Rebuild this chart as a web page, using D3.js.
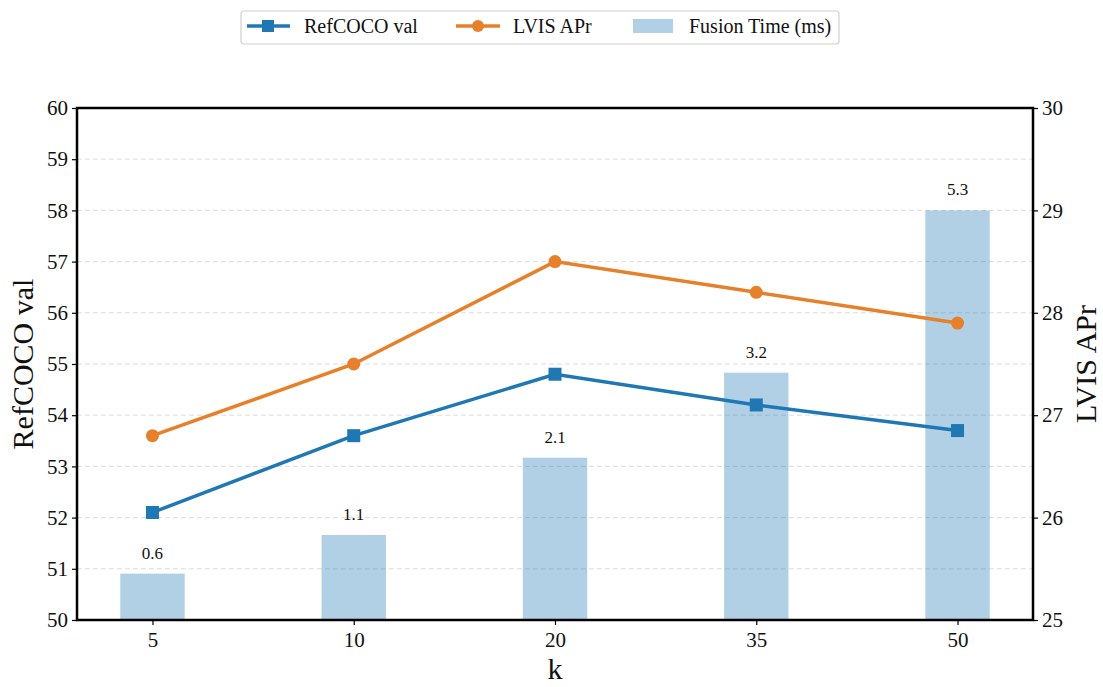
<!DOCTYPE html>
<html>
<head>
<meta charset="utf-8">
<script src="https://cdn.jsdelivr.net/npm/d3@7"></script>
<style>
  body { margin: 0; background: #fff; }
</style>
</head>
<body>
<script>
const width = 1103;
const height = 687;
const margin = { top: 108, right: 70, bottom: 67, left: 77 };
const serif = "Liberation Serif, Times New Roman, serif";

const kValues = ["5", "10", "20", "35", "50"];
const refcocoVal = [52.1, 53.6, 54.8, 54.2, 53.7];
const lvisApr = [26.8, 27.5, 28.5, 28.2, 27.9];
const fusionTime = [0.6, 1.1, 2.1, 3.2, 5.3];
const leftTicks = [50, 51, 52, 53, 54, 55, 56, 57, 58, 59, 60];
const rightTicks = [25, 26, 27, 28, 29, 30];

const blue = "#1f77b4";
const orange = "#e6802a";

const svg = d3.select("body").append("svg")
  .attr("width", width)
  .attr("height", height)
  .attr("font-family", serif);

const x = d3.scaleLinear()
  .domain([-0.375, kValues.length - 1 + 0.375])
  .range([margin.left, width - margin.right]);
const yL = d3.scaleLinear().domain([50, 60]).range([height - margin.bottom, margin.top]);
const yR = d3.scaleLinear().domain([25, 30]).range([height - margin.bottom, margin.top]);
const yT = d3.scaleLinear().domain([0, d3.max(fusionTime) / 0.8]).range([height - margin.bottom, margin.top]);

// grid
svg.append("g")
  .selectAll("line")
  .data(leftTicks.slice(1, -1))
  .enter()
  .append("line")
  .attr("x1", margin.left)
  .attr("x2", width - margin.right)
  .attr("y1", (d) => yL(d))
  .attr("y2", (d) => yL(d))
  .attr("stroke", "#dcdcdc")
  .attr("stroke-width", 1)
  .attr("stroke-dasharray", "5,3");

// bars
const barW = x(0.32) - x(0);
svg.append("g")
  .selectAll("rect")
  .data(fusionTime)
  .enter()
  .append("rect")
  .attr("x", (d, i) => x(i) - barW / 2)
  .attr("y", (d) => yT(d))
  .attr("width", barW)
  .attr("height", (d) => yT(0) - yT(d))
  .attr("fill", blue)
  .attr("fill-opacity", 0.35);

svg.append("g")
  .selectAll("text")
  .data(fusionTime)
  .enter()
  .append("text")
  .attr("x", (d, i) => x(i))
  .attr("y", (d) => yT(d) - 15)
  .attr("text-anchor", "middle")
  .attr("font-size", 17)
  .attr("fill", "#111")
  .text((d) => d.toFixed(1));

// lines
const line = (scale) => d3.line().x((d, i) => x(i)).y((d) => scale(d));

svg.append("path")
  .datum(refcocoVal)
  .attr("d", line(yL))
  .attr("fill", "none")
  .attr("stroke", blue)
  .attr("stroke-width", 3.5);
svg.append("g")
  .selectAll("rect")
  .data(refcocoVal)
  .enter()
  .append("rect")
  .attr("x", (d, i) => x(i) - 6.5)
  .attr("y", (d) => yL(d) - 6.5)
  .attr("width", 13)
  .attr("height", 13)
  .attr("fill", blue);

svg.append("path")
  .datum(lvisApr)
  .attr("d", line(yR))
  .attr("fill", "none")
  .attr("stroke", orange)
  .attr("stroke-width", 3.5);
svg.append("g")
  .selectAll("circle")
  .data(lvisApr)
  .enter()
  .append("circle")
  .attr("cx", (d, i) => x(i))
  .attr("cy", (d) => yR(d))
  .attr("r", 6.5)
  .attr("fill", orange);

// axes
function styleAxis(g) {
  g.attr("font-family", serif).attr("font-size", 21);
  g.selectAll(".domain").remove();
  g.selectAll(".tick line").attr("stroke", "#000").attr("stroke-width", 1.2);
  g.selectAll(".tick text").attr("fill", "#111");
}

svg.append("g")
  .attr("transform", `translate(${margin.left},0)`)
  .call(d3.axisLeft(yL).tickValues(leftTicks).tickFormat(d3.format("d")).tickSize(5).tickPadding(4))
  .call(styleAxis);

svg.append("g")
  .attr("transform", `translate(${width - margin.right},0)`)
  .call(d3.axisRight(yR).tickValues(rightTicks).tickFormat(d3.format("d")).tickSize(5).tickPadding(4))
  .call(styleAxis);

svg.append("g")
  .attr("transform", `translate(0,${height - margin.bottom})`)
  .call(d3.axisBottom(x).tickValues(d3.range(kValues.length)).tickFormat((i) => kValues[i]).tickSize(5).tickPadding(7))
  .call(styleAxis);

svg.append("rect")
  .attr("x", margin.left)
  .attr("y", margin.top)
  .attr("width", width - margin.left - margin.right)
  .attr("height", height - margin.top - margin.bottom)
  .attr("fill", "none")
  .attr("stroke", "#000")
  .attr("stroke-width", 2.5);

// axis labels
svg.append("text")
  .attr("transform", `translate(33,${(margin.top + height - margin.bottom) / 2}) rotate(-90)`)
  .attr("text-anchor", "middle")
  .attr("font-size", 30)
  .attr("fill", "#111")
  .text("RefCOCO val");

svg.append("text")
  .attr("transform", `translate(1096,${(margin.top + height - margin.bottom) / 2}) rotate(-90)`)
  .attr("text-anchor", "middle")
  .attr("font-size", 30)
  .attr("fill", "#111")
  .text("LVIS APr");

svg.append("text")
  .attr("x", (margin.left + width - margin.right) / 2)
  .attr("y", 679)
  .attr("text-anchor", "middle")
  .attr("font-size", 30)
  .attr("fill", "#111")
  .text("k");

// legend
const legend = svg.append("g");
legend.append("rect")
  .attr("x", 241)
  .attr("y", 11)
  .attr("width", 598)
  .attr("height", 33)
  .attr("rx", 3)
  .attr("fill", "#fff")
  .attr("stroke", "#d0d0d0")
  .attr("stroke-width", 1.2);

const legY = 26;
legend.append("line").attr("x1", 247).attr("x2", 290).attr("y1", legY).attr("y2", legY)
  .attr("stroke", blue).attr("stroke-width", 3.5);
legend.append("rect").attr("x", 262).attr("y", legY - 6).attr("width", 12).attr("height", 12).attr("fill", blue);
legend.append("text").attr("x", 304).attr("y", legY + 6.5).attr("font-size", 20).attr("fill", "#111").text("RefCOCO val");

legend.append("line").attr("x1", 456).attr("x2", 500).attr("y1", legY).attr("y2", legY)
  .attr("stroke", orange).attr("stroke-width", 3.5);
legend.append("circle").attr("cx", 478).attr("cy", legY).attr("r", 6).attr("fill", orange);
legend.append("text").attr("x", 513).attr("y", legY + 6.5).attr("font-size", 20).attr("fill", "#111").text("LVIS APr");

legend.append("rect").attr("x", 633).attr("y", legY - 7).attr("width", 40).attr("height", 14)
  .attr("fill", blue).attr("fill-opacity", 0.35);
legend.append("text").attr("x", 689).attr("y", legY + 6.5).attr("font-size", 20).attr("fill", "#111").text("Fusion Time (ms)");
</script>
</body>
</html>
